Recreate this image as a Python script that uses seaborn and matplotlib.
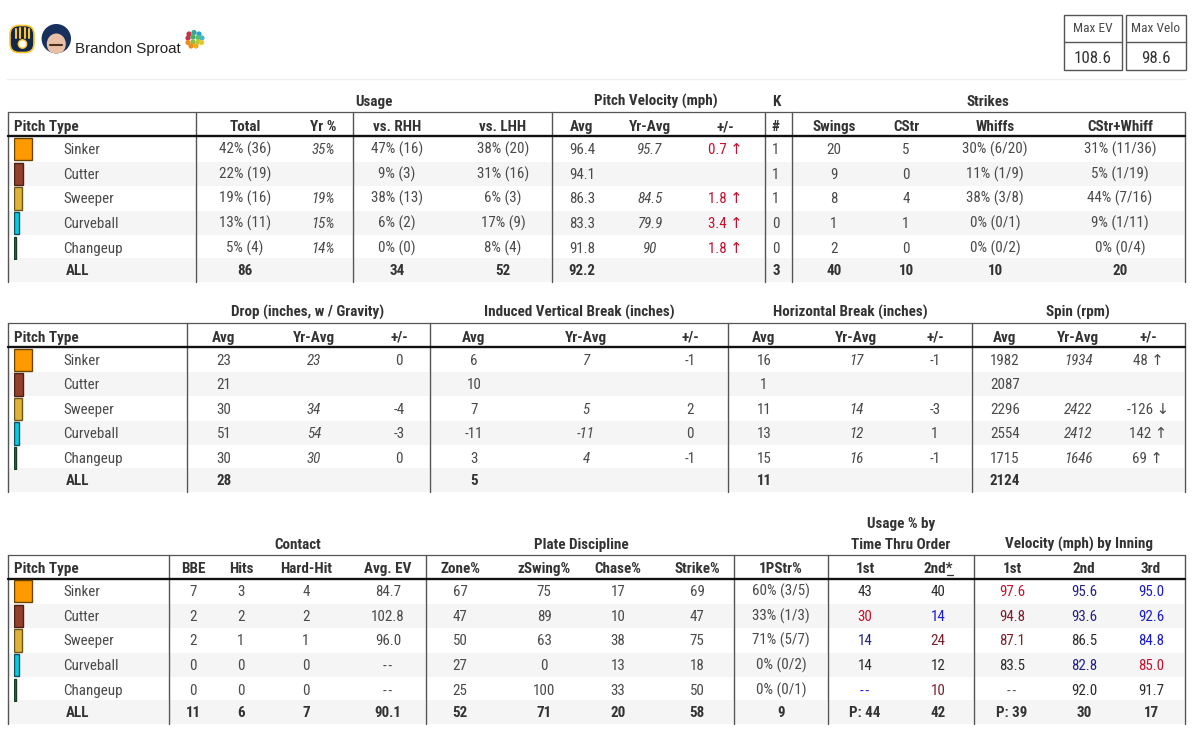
import matplotlib
matplotlib.use('Agg')
import matplotlib.pyplot as plt
import matplotlib.patches as mpatches
import pandas as pd
import seaborn as sns
from matplotlib import font_manager as fm

W, H = 1200, 739

# Data
player = 'Brandon Sproat'
max_ev = '108.6'
max_velo = '98.6'
pitches = ['Sinker', 'Cutter', 'Sweeper', 'Curveball', 'Changeup']
usage_pct = [42, 22, 19, 13, 5]
pitch_colors = ['#FF9900', '#933F2C', '#DDB33A', '#00CFEA', '#2A7A45']
pitch_edges = ['#6B4300', '#4A1F14', '#6B5518', '#10505C', '#143D22']

# Table 1
total = ['42% (36)', '22% (19)', '19% (16)', '13% (11)', '5% (4)', '86']
yr_pct = ['35%', '', '19%', '15%', '14%', '']
vs_rhh = ['47% (16)', '9% (3)', '38% (13)', '6% (2)', '0% (0)', '34']
vs_lhh = ['38% (20)', '31% (16)', '6% (3)', '17% (9)', '8% (4)', '52']
velo_avg = ['96.4', '94.1', '86.3', '83.3', '91.8', '92.2']
velo_yr = ['95.7', '', '84.5', '79.9', '90', '']
velo_diff = ['0.7 ↑', '', '1.8 ↑', '3.4 ↑', '1.8 ↑', '']
k_count = ['1', '1', '1', '0', '0', '3']
swings = ['20', '9', '8', '1', '2', '40']
cstr = ['5', '0', '4', '1', '0', '10']
whiffs = ['30% (6/20)', '11% (1/9)', '38% (3/8)', '0% (0/1)', '0% (0/2)', '10']
csw = ['31% (11/36)', '5% (1/19)', '44% (7/16)', '9% (1/11)', '0% (0/4)', '20']

# Table 2
drop_avg = ['23', '21', '30', '51', '30', '28']
drop_yr = ['23', '', '34', '54', '30', '']
drop_diff = ['0', '', '-4', '-3', '0', '']
ivb_avg = ['6', '10', '7', '-11', '3', '5']
ivb_yr = ['7', '', '5', '-11', '4', '']
ivb_diff = ['-1', '', '2', '0', '-1', '']
hb_avg = ['16', '1', '11', '13', '15', '11']
hb_yr = ['17', '', '14', '12', '16', '']
hb_diff = ['-1', '', '-3', '1', '-1', '']
spin_avg = ['1982', '2087', '2296', '2554', '1715', '2124']
spin_yr = ['1934', '', '2422', '2412', '1646', '']
spin_diff = ['48 ↑', '', '-126 ↓', '142 ↑', '69 ↑', '']

# Table 3
bbe = ['7', '2', '2', '0', '0', '11']
hits = ['3', '2', '1', '0', '0', '6']
hard_hit = ['4', '2', '1', '0', '0', '7']
avg_ev = ['84.7', '102.8', '96.0', '--', '--', '90.1']
zone = ['67', '47', '50', '27', '25', '52']
zswing = ['75', '89', '63', '0', '100', '71']
chase = ['17', '10', '38', '13', '33', '20']
strike = ['69', '47', '75', '18', '50', '58']
first_str = ['60% (3/5)', '33% (1/3)', '71% (5/7)', '0% (0/2)', '0% (0/1)', '9']
tto_1 = ['43', '30', '14', '14', '--', 'P: 44']
tto_2 = ['40', '14', '24', '12', '10', '42']
inn_1 = ['97.6', '94.8', '87.1', '83.5', '--', 'P: 39']
inn_2 = ['95.6', '93.6', '86.5', '82.8', '92.0', '30']
inn_3 = ['95.0', '92.6', '84.8', '85.0', '91.7', '17']

RED = '#C8102E'
DRED = '#7A1F2B'
BLUE = '#1A1AD0'
NAVY = '#23237F'
INK = '#2B2B2B'
tto_1_col = [INK, RED, NAVY, INK, BLUE]
tto_2_col = [INK, BLUE, DRED, INK, DRED]
inn_1_col = [RED, DRED, DRED, INK, '#555555']
inn_2_col = [NAVY, NAVY, INK, NAVY, INK]
inn_3_col = [BLUE, BLUE, BLUE, RED, INK]
diff_col = [RED] * 5

sns.set_theme(style='white')
available = {f.name for f in fm.fontManager.ttflist}
narrow = 'Roboto Condensed' if 'Roboto Condensed' in available else 'Liberation Sans Narrow'
if narrow not in available:
    narrow = 'Roboto'
FONT = [narrow, 'DejaVu Sans']
GREY = '#4A4A4A'
HEAD = '#333333'
STRIPE = '#F5F5F5'
LINE = '#555555'
BODY = 10.8
HDR = 10.9

fig = plt.figure(figsize=(12, 7.39), dpi=100)
ax = fig.add_axes([0, 0, 1, 1])
ax.set_xlim(0, W)
ax.set_ylim(H, 0)
ax.axis('off')


def txt(x, y, s, size=BODY, color=GREY, weight='normal', style='normal', ha='center'):
    s = s.replace('--', '-\u200a-')
    # whole-pixel baseline so brackets and arrows do not shift a cell up or down
    ax.text(x, round(y + 0.43 * size + 0.4), s, fontsize=size, color=color, fontweight=weight, fontstyle=style,
            ha=ha, va='baseline', family=FONT)


def draw_table(top, head_y, thick_y, rows_y, bottom, verts, groups, cols):
    # stripes, with small gaps at the column rules
    for i in (1, 3, 5):
        y0 = rows_y[i] - 12.2
        y1 = bottom if i == 5 else rows_y[i] + 12.2
        for a, b in zip(verts[:-1], verts[1:]):
            ax.add_patch(mpatches.Rectangle((a + 1, y0), b - a - 2, y1 - y0, color=STRIPE, lw=0, zorder=0))
    ax.plot([verts[0], verts[-1]], [top, top], color=LINE, lw=0.9, zorder=2)
    ax.plot([verts[0], verts[-1]], [thick_y, thick_y], color='#111111', lw=1.7, zorder=3)
    for v in verts:
        ax.plot([v, v], [top, bottom], color=LINE, lw=1.0, zorder=2)
    for label, gx, gy in groups:
        txt(gx, gy, label, size=HDR, color=HEAD, weight='bold')
    txt(verts[0] + 6, head_y, 'Pitch Type', size=HDR, color=HEAD, weight='bold', ha='left')
    for i, name in enumerate(pitches):
        txt(63, rows_y[i], name, ha='left')
    txt(66, rows_y[5], 'ALL', color=HEAD, weight='bold', ha='left')
    for head, x, values, opts in cols:
        txt(x, head_y, head, size=HDR, color=HEAD, weight='bold')
        colors = opts.get('colors')
        for i, v in enumerate(values):
            if i == 5:
                txt(x, rows_y[i], v, color=HEAD, weight='bold')
            else:
                txt(x, rows_y[i], v, color=colors[i] if colors else GREY, style=opts.get('style', 'normal'))
    # usage swatches, bar length from the pitch share
    x0, x1 = 13.5, 13.5 + 45
    sw = fig.add_axes([x0 / W, 1 - (rows_y[4] + 12.25) / H, (x1 - x0) / W, (rows_y[4] - rows_y[0] + 24.5) / H])
    df = pd.DataFrame({'pitch': pitches, 'usage': usage_pct})
    sns.barplot(df, x='usage', y='pitch', hue='pitch', palette=pitch_colors, dodge=False,
                legend=False, width=0.91, saturation=1, ax=sw)
    for bar, edge in zip(sw.patches, pitch_edges):
        bar.set_edgecolor(edge)
        bar.set_linewidth(1.0)
    sw.set_xlim(0, 100)
    sw.axis('off')
    sw.patch.set_alpha(0)


IT = {'style': 'italic'}
draw_table(
    112, 126, 135.5, [149, 174, 198, 223, 248, 270], 282,
    [7.5, 196, 353, 552, 765, 792, 1185],
    [('Usage', 374, 101), ('Pitch Velocity (mph)', 656, 101), ('K', 776, 101), ('Strikes', 988, 101)],
    [('Total', 245, total, {}), ('Yr %', 323, yr_pct, IT), ('vs. RHH', 397, vs_rhh, {}), ('vs. LHH', 503, vs_lhh, {}),
     ('Avg', 582, velo_avg, {}), ('Yr-Avg', 650, velo_yr, IT), ('+/-', 725, velo_diff, {'colors': diff_col}),
     ('#', 776, k_count, {}), ('Swings', 834, swings, {}), ('CStr', 906, cstr, {}),
     ('Whiffs', 995, whiffs, {}), ('CStr+Whiff', 1120, csw, {})])

draw_table(
    323, 337, 346.5, [360, 384, 409, 433, 458, 480], 492,
    [7.5, 187, 430, 728, 972, 1185],
    [('Drop (inches, w / Gravity)', 308, 312), ('Induced Vertical Break (inches)', 579, 312),
     ('Horizontal Break (inches)', 850, 312), ('Spin (rpm)', 1078, 312)],
    [('Avg', 224, drop_avg, {}), ('Yr-Avg', 314, drop_yr, IT), ('+/-', 399, drop_diff, {}),
     ('Avg', 474, ivb_avg, {}), ('Yr-Avg', 586, ivb_yr, IT), ('+/-', 690, ivb_diff, {}),
     ('Avg', 764, hb_avg, {}), ('Yr-Avg', 856, hb_yr, IT), ('+/-', 935, hb_diff, {}),
     ('Avg', 1005, spin_avg, {}), ('Yr-Avg', 1078, spin_yr, IT), ('+/-', 1148, spin_diff, {})])

draw_table(
    555, 568, 578.5, [591, 616, 640, 665, 690, 712], 724,
    [7.5, 169, 426, 734, 828, 974, 1185],
    [('Contact', 298, 544), ('Plate Discipline', 581, 544), ('Usage % by', 901, 523),
     ('Time Thru Order', 901, 544), ('Velocity (mph) by Inning', 1079, 544)],
    [('BBE', 193, bbe, {}), ('Hits', 241, hits, {}), ('Hard-Hit', 306, hard_hit, {}), ('Avg. EV', 388, avg_ev, {}),
     ('Zone%', 460, zone, {}), ('zSwing%', 544, zswing, {}), ('Chase%', 618, chase, {}), ('Strike%', 697, strike, {}),
     ('1PStr%', 781, first_str, {}), ('1st', 865, tto_1, {'colors': tto_1_col}),
     ('2nd*', 938, tto_2, {'colors': tto_2_col}), ('1st', 1012, inn_1, {'colors': inn_1_col}),
     ('2nd', 1084, inn_2, {'colors': inn_2_col}), ('3rd', 1151, inn_3, {'colors': inn_3_col})])
ax.plot([947, 953], [574.5, 574.5], color=HEAD, lw=0.9)

# Header: logos, name, max boxes
shield = mpatches.FancyBboxPatch((10, 25.5), 24, 27, boxstyle='round,pad=0,rounding_size=9',
                                 fc='#12284B', ec='#FFC52F', lw=1.2)
ax.add_patch(shield)
for gx, gy in [(15.5, 29), (20, 28), (24.5, 28), (29, 29)]:
    ax.plot([gx, gx], [gy, 38], color='#FFC52F', lw=1.5)
ax.add_patch(mpatches.Circle((22.5, 44), 4.2, fc='white', ec='#FFC52F', lw=1))
head = mpatches.Circle((56.3, 38.7), 14.7, fc='#17315C', ec='none')
ax.add_patch(head)
face = mpatches.Ellipse((56.3, 44), 19, 21, fc='#E9BFA6', ec='none')
ax.add_patch(face)
face.set_clip_path(head)
ax.plot([50, 62], [44.5, 44.5], color='#4A2E1E', lw=1.5)
for cx, cy, c in [(189, 34, '#C8324A'), (194, 32.5, '#2FA88F'), (199, 34, '#2D9FD8'),
                  (188, 38, '#C8324A'), (193, 37, '#3FAF6A'), (198, 37.5, '#5BC06A'), (202, 38, '#49B5C5'),
                  (188, 42.5, '#F08A1D'), (193, 42, '#8CBF3F'), (198, 42, '#B8CC3A'), (201.5, 42.5, '#E9C62A'),
                  (191, 46, '#F08A1D'), (196, 46, '#F5A81C')]:
    ax.add_patch(mpatches.Circle((cx, cy), 2.6, fc=c, ec='none'))
ax.text(75, 48.5, player, fontsize=10.9, color='#222222', family='Liberation Sans', ha='left', va='center')
ax.plot([7, 1185], [78.5, 78.5], color='#EEEEEE', lw=1)
for x0, x1, title, value in [(1063.5, 1122, 'Max EV', max_ev), (1125.5, 1185.5, 'Max Velo', max_velo)]:
    ax.add_patch(mpatches.Rectangle((x0, 15), x1 - x0, 55, fc='white', ec=LINE, lw=1.0))
    ax.plot([x0, x1], [41.5, 41.5], color=LINE, lw=1.0)
    txt((x0 + x1) / 2, 27.5, title, size=9.6)
    txt((x0 + x1) / 2, 57, value, size=12.2, color='#333333')

fig.savefig('out.png', dpi=100, facecolor='white')
